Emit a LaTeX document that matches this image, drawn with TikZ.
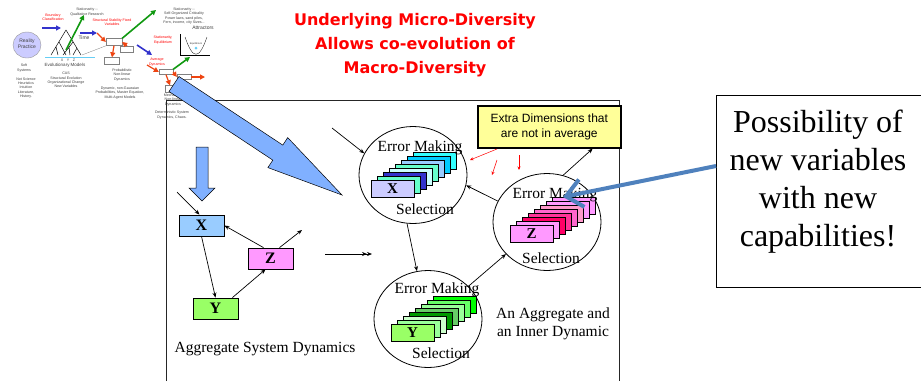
\documentclass[tikz,border=0pt]{standalone}
\usepackage{fontspec}
\setmainfont{Liberation Serif}
\newfontfamily\arialf{Liberation Sans}
\newfontfamily\titlef{DejaVu Sans}
\usetikzlibrary{shapes.geometric,arrows.meta,calc}
\definecolor{bigblue}{HTML}{80B0FF}
\definecolor{steelb}{HTML}{4F81BD}
\definecolor{yellowbox}{HTML}{FFFF99}
\definecolor{bxX}{HTML}{99CCFF}
\definecolor{bxY}{HTML}{99FF66}
\definecolor{bxZ}{HTML}{FF99FF}
\definecolor{thgreen}{HTML}{119911}
\definecolor{thblue}{HTML}{3333CC}
\definecolor{thred}{HTML}{EE4411}
\definecolor{thcloud}{HTML}{CCCCFF}
\newcommand\cardstack[4]{%
  \foreach \c [count=\i from 0] in {#3} {
    \pgfmathsetmacro\k{7-\i}
    \definecolor{tmpc}{HTML}{\c}
    \filldraw[fill=tmpc, draw=black, line width=0.6pt] ({#1+6*\k},{#2-3.9*\k}) rectangle ++(43,17);
  }
}
\begin{document}
\begin{tikzpicture}[x=1pt,y=-1pt,
  conn/.style={-{Stealth[length=5pt,width=4pt]}, line width=0.7pt},
  dconn/.style={-{Stealth[length=5pt,width=4pt]Stealth[length=5pt,width=4pt]}, line width=0.7pt},
  redarr/.style={-{Stealth[length=3.5pt,width=3pt]}, line width=0.5pt, red},
  circ/.style={ellipse, draw, line width=0.8pt, minimum width=108pt, minimum height=97pt, inner sep=0},
  varbox/.style={draw, line width=0.8pt, minimum width=45pt, minimum height=21pt, inner sep=0, font=\bfseries\fontsize{16}{16}\selectfont},
  cardlbl/.style={inner sep=0, font=\bfseries\fontsize{15}{15}\selectfont},
  serif/.style={inner sep=0, font=\fontsize{15.5}{18}\selectfont, align=center},
  tiny/.style={font=\arialf\fontsize{3.6}{4.3}\selectfont, align=center, inner sep=0, text=black!75},
  tinyred/.style={tiny, text=red},
  tharr/.style={-{Triangle[length=5pt,width=5pt]}, line width=1.6pt}
]
\useasboundingbox (0,0) rectangle (921,381);
\fill[white] (0,0) rectangle (921,381);

% ---------- thumbnail (top left) ----------
\node[ellipse, fill=thcloud, draw=black!40, minimum width=28pt, minimum height=26pt, inner sep=0] (cloud) at (27,45) {};
\node[tiny, font=\arialf\fontsize{5}{6}\selectfont] (cloudt) at (27,44) {Reality\\Practice};
\node[tiny] (soft) at (24,68) {Soft\\Systems};
\node[tiny] (notsci) at (26,88) {Not Science\\Heuristics\\Intuition\\Literature,\\History.};
\node[tinyred] (bound) at (53,17) {Boundary\\Classification};
\draw[tharr, thblue] (42,28) -- (61,28);
\draw[line width=0.5pt] (66,30) -- (51,55) (66,30) -- (81,55) (59,42) -- (66,55) (73,42) -- (63,55) (56,47) -- (58,55) (77,48) -- (73,55) (69,47) -- (70,55);
\draw[line width=0.8pt, cyan!60] (45,57) -- (95,57);
\node[tiny] (xyzt) at (68,60) {X\quad Y\quad Z};
\draw[tharr, thgreen] (66,50) -- (84,15);
\node[tiny] (stat1) at (87,12) {Stationarity --\\Qualitative Research};
\node[tiny, font=\arialf\fontsize{5}{6}\selectfont] (time) at (84,38) {Time};
\draw[line width=0.3pt, black!50] (82,55) -- (108,45);
\node[tiny, font=\arialf\fontsize{4.5}{5}\selectfont] (evo) at (65,65) {Evolutionary Models};
\node[tiny] (cas) at (66,80) {CAS\\Structural Evolution\\Organizational Change\\New Variables};
\draw[tharr, thblue] (80,33) -- (97,33);
\node[tinyred] (ssf) at (112,22) {Structural Stability Fixed\\Variables};
\node[draw=black!50, line width=0.3pt, minimum width=16pt, minimum height=7pt, inner sep=0, fill=white] (tbx) at (114,42) {};
\node[draw=black!50, line width=0.3pt, minimum width=15pt, minimum height=7pt, inner sep=0, fill=white] (tby) at (112,61) {};
\node[draw=black!50, line width=0.3pt, minimum width=13pt, minimum height=6pt, inner sep=0, fill=white] (tbz) at (127,49) {};
\draw[tharr, thred, line width=1.2pt] (97,33) -- (tbx.west);
\draw[tharr, thred, line width=1.2pt] (tbx.south) -- (tby.north);
\draw[tharr, thred, line width=1.2pt] (tbz.north) -- (tbx.east);
\draw[tharr, thgreen] (tbx.north east) -- (156,10);
\draw[tharr, thblue] (137,45) -- (152,55);
\node[tiny] (prob) at (122,75) {Probabilistic\\Non-linear\\Dynamics};
\node[tiny] (dyn) at (120,93) {Dynamic, non-Gaussian\\Probabilities, Master Equation,\\Multi-Agent Models};
\node[tiny] (stat2) at (184,16) {Stationarity --\\Self-Organized Criticality\\Power laws, sand piles,\\Fern, income, city Sizes...};
\node[tiny, font=\arialf\fontsize{5}{6}\selectfont] (attr) at (203,28) {Attractors};
\draw[line width=0.3pt] (180,34) -- (180,55) -- (210,55);
\draw[line width=0.3pt] (185,37) .. controls (193,60) and (199,60) .. (207,37);
\fill[cyan!60] (196,48) circle (1.5pt);
\node[tiny, font=\arialf\fontsize{2.5}{3}\selectfont] (equi) at (196,44) {Equilibrium};
\node[tinyred] (stateq) at (163,40) {Stationarity,\\Equilibrium};
\node[tinyred] (avg) at (157,62) {Average\\Dynamics};
\node[draw=black!50, line width=0.3pt, minimum width=14pt, minimum height=5pt, inner sep=0, fill=white] (tbx2) at (166,72) {};
\node[draw=black!50, line width=0.3pt, minimum width=14pt, minimum height=5pt, inner sep=0, fill=white] (tbz2) at (184,77) {};
\node[draw=black!50, line width=0.3pt, minimum width=10pt, minimum height=7pt, inner sep=0, fill=white] (tby2) at (170,89) {};
\draw[tharr, thred, line width=1.2pt] (147,65) -- (tbx2.west);
\draw[tharr, thred, line width=1.2pt] (tbx2.south) -- (tby2.north);
\draw[tharr, thred, line width=1.2pt] (tbx2.east) -- (tbz2.west);
\draw[tharr, thred, line width=1.2pt] (tbz2.east) -- (205,77);
\draw[tharr, thgreen] (tbx2.north east) -- (190,57);
\node[tiny] (mech) at (173,100) {Mechanical\\Non-linear\\Dynamics};
\node[tiny] (det) at (172,115) {Deterministic System\\Dynamics, Chaos.};

% ---------- title ----------
\node[inner sep=0, align=center, text=red, font=\titlef\bfseries\fontsize{16}{24}\selectfont] (title) at (415,45) {Underlying Micro-Diversity\\Allows co-evolution of\\Macro-Diversity};

% ---------- main frame ----------
\draw[line width=0.8pt, black!85] (166,381) -- (166,100) -- (619,100) -- (619,381);

% ---------- big diagonal arrow ----------
\filldraw[fill=bigblue, draw=black, line width=0.5pt]
  (169.0,91.5) -- (272.8,160.1) -- (267.9,167.6) -- (342,195) -- (287.7,137.6) -- (282.8,145.1) -- (179.0,76.5) -- cycle;
% ---------- vertical arrow ----------
\filldraw[fill=bigblue, draw=black, line width=0.5pt]
  (196,147) -- (208,147) -- (208,188) -- (215,188) -- (202,201) -- (189,188) -- (196,188) -- cycle;

% ---------- left aggregate system ----------
\node[varbox, fill=bxX] (bx) at (201.5,225.5) {X};
\node[varbox, fill=bxY] (by) at (215.5,308.5) {Y};
\node[varbox, fill=bxZ] (bz) at (270.5,258.5) {Z};
\coordinate (inx) at (177,192);
\coordinate (zout) at (302,230);
\draw[conn] (inx) -- ([xshift=-2pt]bx.north);
\draw[conn] (bx.south) -- (by.north);
\draw[conn] ([xshift=-6pt]by.north east) -- ([xshift=-5pt]bz.south);
\draw[conn] ([xshift=-7pt]bz.north) -- (bx.east);
\draw[conn] ([xshift=9pt]bz.north) -- (zout);
\node[serif] (asd) at (265,349) {Aggregate System Dynamics};

\coordinate (hs) at (325,254);
\coordinate (he) at (372,254);
\draw[dconn] (hs) -- (he);

% ---------- circles ----------
\node[circ] (cx) at (413,175) {};
\node[circ] (cz) at (547,222) {};
\node[circ] (cy) at (428,319) {};

\cardstack{371}{180}{33FFFF,00CCFF,99CCFF,66FFCC,CCFFFF,3333CC,66FFCC,CCCCFF}{X}
\node[cardlbl] (lx) at (392.5,189) {X};
\cardstack{510}{225}{FF99FF,FF99FF,FF99CC,FF66CC,FF3399,FF0066,FF99FF,FF99FF}{Z}
\node[cardlbl] (lz) at (531.5,234) {Z};
\cardstack{391}{324}{00FF00,66FF66,99FF99,66CC66,009900,CCFFCC,99FF99,99FF66}{Y}
\node[cardlbl] (ly) at (412.5,333) {Y};

\node[serif] (emx) at (420,148) {Error Making};
\node[serif] (selx) at (425,209) {Selection};
\node[serif] (emz) at (555,195) {Error Making};
\node[serif] (selz) at (551,258) {Selection};
\node[serif] (emy) at (437,290) {Error Making};
\node[serif] (sely) at (441,353) {Selection};

\coordinate (inc) at (332,128);
\draw[conn] (inc) -- (cx.156);
\draw[conn] (cx.-97) -- (cy.103);
\draw[conn] (cy.39) -- (cz.218);
\draw[conn] (cz.157) -- (cx.-11);

\node[serif] (aggr) at (553,324) {An Aggregate and\\an Inner Dynamic};

% ---------- yellow box ----------
\fill[black!80] (479,107) rectangle (622,149);
\node[draw, line width=1.6pt, fill=yellowbox, minimum width=143pt, minimum height=42pt, anchor=north west, inner sep=0, align=center, font=\arialf\fontsize{12}{15}\selectfont] (yb) at (477,105) {Extra Dimensions that\\are not in average};
\draw[conn] (cz.71) -- ($(yb.south west)!0.8!(yb.south east)$);

\coordinate (r1s) at (497,149);
\coordinate (r1e) at (470,160);
\coordinate (r2s) at (497,160);
\coordinate (r2e) at (492,175);
\coordinate (r3s) at (519,155);
\coordinate (r3e) at (519,170);
\draw[redarr] (r1s) -- (r1e);
\draw[redarr] (r2s) -- (r2e);
\draw[redarr] (r3s) -- (r3e);

% ---------- right box (runs past the right edge) ----------
\draw[line width=0.8pt] (930,287) -- (716,287) -- (716,95) -- (930,95);
\node[inner sep=0, align=center, font=\fontsize{32}{38}\selectfont] (pb) at (818,182) {Possibility of\\new variables\\with new\\capabilities!};
\coordinate (bs) at (716,166);
\coordinate (be) at (563,197);
\draw[line width=4pt, steelb, -{Straight Barb[length=16pt,width=28pt]}] (bs) -- (be);
\end{tikzpicture}
\end{document}
